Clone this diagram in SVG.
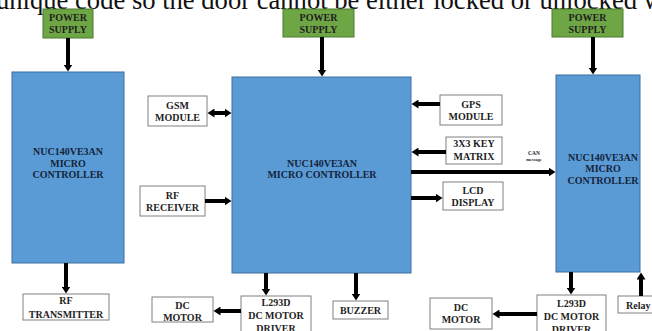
<svg xmlns="http://www.w3.org/2000/svg" width="652" height="331" viewBox="0 0 652 331">
<style>
.t{font-family:"Liberation Serif","Times New Roman",serif;font-weight:bold;font-size:10px;fill:#1e1e1e;text-anchor:middle}
.tb{fill:#13243b}
.ps{fill:#6ea646;stroke:#4a7a2c;stroke-width:1}
.mc{fill:#5b9bd5;stroke:#3d6f9f;stroke-width:1}
.bx{fill:#fff;stroke:#808080;stroke-width:1}
.ar{stroke:#000;stroke-width:4;fill:none}
</style>
<defs>
<marker id="ah" markerWidth="8" markerHeight="9" refX="0.5" refY="4.5" orient="auto-start-reverse" markerUnits="userSpaceOnUse"><path d="M0,0 L7,4.5 L0,9 z" fill="#000"/></marker>
</defs>
<rect width="652" height="331" fill="#fff"/>
<text x="-4" y="8.5" style="font-family:'Liberation Serif','Times New Roman',serif;font-size:26.6px;fill:#111">unique code so the door cannot be either locked or unlocked w</text>

<g id="ps1"><rect class="ps" x="43" y="9" width="50" height="29"/><text class="t" x="68" y="20.5">POWER</text><text class="t" x="68" y="32.5">SUPPLY</text></g>
<g id="ps2"><rect class="ps" x="283" y="9" width="71" height="28"/><text class="t" x="318.5" y="20.5">POWER</text><text class="t" x="318.5" y="32.5">SUPPLY</text></g>
<g id="ps3"><rect class="ps" x="552" y="9" width="71" height="28"/><text class="t" x="587.5" y="20.5">POWER</text><text class="t" x="587.5" y="32.5">SUPPLY</text></g>

<g id="mc1"><rect class="mc" x="12" y="72" width="112" height="191"/><text class="t tb" x="68" y="154.5">NUC140VE3AN</text><text class="t tb" x="68" y="166.5">MICRO</text><text class="t tb" x="68" y="177.5">CONTROLLER</text></g>
<g id="mc2"><rect class="mc" x="232" y="77" width="179" height="196"/><text class="t tb" x="322" y="166.5">NUC140VE3AN</text><text class="t tb" x="322" y="177.5">MICRO CONTROLLER</text></g>
<g id="mc3"><rect class="mc" x="556" y="75" width="84" height="197"/><text class="t tb" x="603" y="160.5">NUC140VE3AN</text><text class="t tb" x="603" y="171.5">MICRO</text><text class="t tb" x="603" y="183.5">CONTROLLER</text></g>

<g id="gsm"><rect class="bx" x="148" y="96" width="59" height="30"/><text class="t" x="177.5" y="108.5">GSM</text><text class="t" x="177.5" y="120.5">MODULE</text></g>
<g id="rfr"><rect class="bx" x="140" y="186" width="65" height="30"/><text class="t" x="172.5" y="198.5">RF</text><text class="t" x="172.5" y="210.5">RECEIVER</text></g>
<g id="gps"><rect class="bx" x="440" y="95" width="62" height="30"/><text class="t" x="471" y="107.5">GPS</text><text class="t" x="471" y="119.5">MODULE</text></g>
<g id="key"><rect class="bx" x="446" y="137" width="56" height="27"/><text class="t" x="474" y="146.5">3X3 KEY</text><text class="t" x="474" y="159.5">MATRIX</text></g>
<g id="lcd"><rect class="bx" x="443" y="182" width="60" height="28"/><text class="t" x="473" y="193.5">LCD</text><text class="t" x="473" y="205.5">DISPLAY</text></g>
<g id="rft"><rect class="bx" x="23" y="294" width="86" height="26"/><text class="t" x="66" y="303.5">RF</text><text class="t" x="66" y="318">TRANSMITTER</text></g>
<g id="dc1"><rect class="bx" x="152" y="297" width="61" height="25"/><text class="t" x="182.5" y="308.5">DC</text><text class="t" x="182.5" y="320.5">MOTOR</text></g>
<g id="drv1"><rect class="bx" x="241" y="296" width="70" height="40"/><text class="t" x="276" y="305.5">L293D</text><text class="t" x="276" y="318.5">DC MOTOR</text><text class="t" x="276" y="332">DRIVER</text></g>
<g id="buz"><rect class="bx" x="333" y="301" width="55" height="18"/><text class="t" x="360.5" y="313.5">BUZZER</text></g>
<g id="dc2"><rect class="bx" x="430" y="298" width="62" height="31"/><text class="t" x="461" y="310.5">DC</text><text class="t" x="461" y="322.5">MOTOR</text></g>
<g id="drv2"><rect class="bx" x="537" y="295" width="69" height="40"/><text class="t" x="571.5" y="306.5">L293D</text><text class="t" x="571.5" y="320">DC MOTOR</text><text class="t" x="571.5" y="333">DRIVER</text></g>
<g id="relay"><rect class="bx" x="618" y="296" width="42" height="17"/><text class="t" x="626" y="308.5" style="text-anchor:start">Relay</text></g>

<g id="connectors" class="ar">
<line x1="68" y1="38" x2="68" y2="65" marker-end="url(#ah)"/>
<line x1="322" y1="37" x2="322" y2="70" marker-end="url(#ah)"/>
<line x1="593" y1="37" x2="593" y2="68" marker-end="url(#ah)"/>
<line x1="214" y1="113" x2="225" y2="113" marker-start="url(#ah)" marker-end="url(#ah)"/>
<line x1="205" y1="201" x2="225" y2="201" marker-end="url(#ah)"/>
<line x1="440" y1="104" x2="418" y2="104" marker-end="url(#ah)"/>
<line x1="446" y1="152" x2="418" y2="152" marker-end="url(#ah)"/>
<line x1="411" y1="172" x2="549" y2="172" marker-end="url(#ah)"/>
<line x1="411" y1="198" x2="436" y2="198" marker-end="url(#ah)"/>
<line x1="66" y1="263" x2="66" y2="287" marker-end="url(#ah)"/>
<line x1="266" y1="273" x2="266" y2="289" marker-end="url(#ah)"/>
<line x1="241" y1="311" x2="220" y2="311" marker-end="url(#ah)"/>
<line x1="356" y1="273" x2="356" y2="294" marker-end="url(#ah)"/>
<line x1="571" y1="272" x2="571" y2="288" marker-end="url(#ah)"/>
<line x1="537" y1="314" x2="499" y2="314" marker-end="url(#ah)"/>
<line x1="641" y1="296" x2="641" y2="279" marker-end="url(#ah)"/>
</g>
<g id="can-label" style="font-family:'Liberation Serif','Times New Roman',serif;font-weight:bold;fill:#222;text-anchor:middle">
<text x="534" y="155" font-size="5.5">CAN</text><text x="534" y="161" font-size="4.5">message</text>
</g>
</svg>
